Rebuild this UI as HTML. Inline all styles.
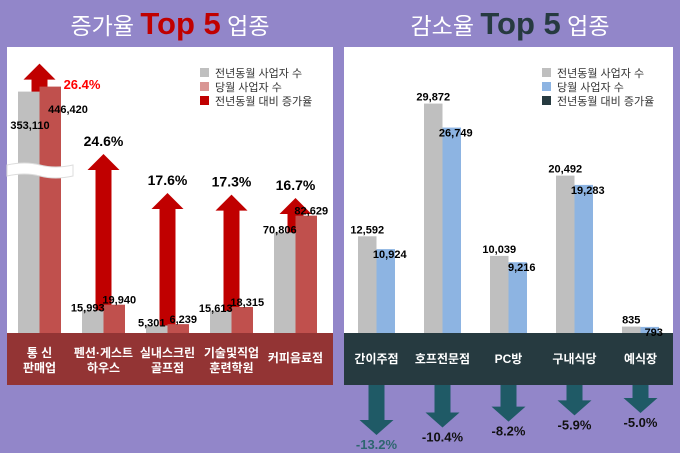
<!DOCTYPE html>
<html><head><meta charset="utf-8"><style>
body{margin:0;background:#9286c9;}
svg{display:block;font-family:"Liberation Sans","Noto Sans CJK KR",sans-serif;}
</style></head><body>
<svg id="c" width="680" height="453" viewBox="0 0 680 453" xmlns="http://www.w3.org/2000/svg">
<rect x="0" y="0" width="680" height="453" fill="#9286c9"/>
<text x="170" y="34" text-anchor="middle" fill="#fff" font-size="23">증가율 <tspan fill="#c00000" font-weight="bold" font-size="31">Top 5</tspan> 업종</text>
<text x="510" y="34" text-anchor="middle" fill="#fff" font-size="23">감소율 <tspan fill="#263a40" font-weight="bold" font-size="31">Top 5</tspan> 업종</text>
<rect x="7" y="47" width="326" height="286" fill="#fff"/>
<rect x="7" y="333" width="326" height="52" fill="#933434"/>
<rect x="344" y="47" width="329" height="286" fill="#fff"/>
<rect x="344" y="333" width="329" height="52" fill="#263a40"/>
<g id="L"></g><g id="R"></g>
<g font-size="11" fill="#333">
<rect x="200" y="68" width="9" height="9" fill="#bfbfbf"/><text x="215" y="77">전년동월 사업자 수</text>
<rect x="200" y="82" width="9" height="9" fill="#d99694"/><text x="215" y="91">당월 사업자 수</text>
<rect x="200" y="96" width="9" height="9" fill="#c00000"/><text x="215" y="105">전년동월 대비 증가율</text>
</g>
<g font-size="11" fill="#333">
<rect x="542" y="68" width="9" height="9" fill="#bfbfbf"/><text x="557" y="77">전년동월 사업자 수</text>
<rect x="542" y="82" width="9" height="9" fill="#8db4e2"/><text x="557" y="91">당월 사업자 수</text>
<rect x="542" y="96" width="9" height="9" fill="#263a40"/><text x="557" y="105">전년동월 대비 증가율</text>
</g>
</svg>
<script>
const incCats=[["통  신","판매업"],["펜션·게스트","하우스"],["실내스크린","골프점"],["기술및직업","훈련학원"],["커피음료점"]];
const incPrev=[353110,15993,5301,15613,70806];
const incCur=[446420,19940,6239,18315,82629];
const incRate=[26.4,24.6,17.6,17.3,16.7];
const decCats=["간이주점","호프전문점","PC방","구내식당","예식장"];
const decPrev=[12592,29872,10039,20492,835];
const decCur=[10924,26749,9216,19283,793];
const decRate=[-13.2,-10.4,-8.2,-5.9,-5.0];

const NS="http://www.w3.org/2000/svg";
function mk(tag,attrs,parent,txt){const e=document.createElementNS(NS,tag);for(const k in attrs)e.setAttribute(k,attrs[k]);if(txt!==undefined)e.textContent=txt;parent.appendChild(e);return e;}
const fmt=v=>v.toLocaleString('en-US');
const BASE=333;
function yL(v){const h=v<=100000?v*0.00142:241.4+(v-353110)*0.0000536;return BASE-h;}
function yR(v){return BASE-v*0.00768;}
function arrowTopL(r){return 291-5.57*r;}
function arrowTipR(r){return 385+14.6+2.68*Math.abs(r);}
const L=document.getElementById('L'),R=document.getElementById('R');
const bw=21.5;
incPrev.forEach((pv,i)=>{
  const gx=18+i*64, cx=gx+bw;
  const cv=incCur[i];
  let top=i===0?yL(cv)-23:arrowTopL(incRate[i]);
  const a=mk('polygon',{points:`${cx-8},${BASE} ${cx-8},${top+16} ${cx-16},${top+16} ${cx},${top} ${cx+16},${top+16} ${cx+8},${top+16} ${cx+8},${BASE}`,fill:'#c00000'},L);
  
  
  const g=mk('rect',{x:gx,y:yL(pv),width:bw,height:BASE-yL(pv),fill:'#bfbfbf'},L);
  
  
  const r=mk('rect',{x:gx+bw,y:yL(cv),width:bw,height:BASE-yL(cv),fill:'#c0504d'},L);
  
  
  let t1,t2,t3;
  if(i===0){
    t1=mk('text',{x:30,y:129,'text-anchor':'middle','font-size':'11','font-weight':'bold'},L,fmt(pv));
    t2=mk('text',{x:68,y:113,'text-anchor':'middle','font-size':'11','font-weight':'bold'},L,fmt(cv));
    t3=mk('text',{x:82,y:89,'text-anchor':'middle','font-size':'13','font-weight':'bold',fill:'#ff0000'},L,incRate[i].toFixed(1)+'%');
  }else{
    t1=mk('text',{x:gx+bw/2-5,y:yL(pv)+1,'text-anchor':'middle','font-size':'11','font-weight':'bold'},L,fmt(pv));
    t2=mk('text',{x:gx+bw*1.5+5,y:yL(cv)-1,'text-anchor':'middle','font-size':'11','font-weight':'bold'},L,fmt(cv));
    t3=mk('text',{x:cx,y:top-8,'text-anchor':'middle','font-size':'14','font-weight':'bold'},L,incRate[i].toFixed(1)+'%');
  }
  
  
  
  
  
  
  const lines=incCats[i];
  const ct=mk('text',{x:cx,y:lines.length>1?357:362,'text-anchor':'middle','font-size':'12','font-weight':'bold',fill:'#fff'},L);
  
  
  lines.forEach((s,j)=>mk('tspan',{x:cx,dy:j?15:0},ct,s));
});
// break marker
const br=mk('path',{d:'M7 165 Q25 161 40 165 T73 165 L73 176 Q55 180 40 176 T7 176 Z',fill:'#fff',stroke:'#ddd','stroke-width':'1'},L);



const bw2=18.5;
decPrev.forEach((pv,i)=>{
  const gx=358+i*66, cx=gx+bw2, cv=decCur[i];
  const g=mk('rect',{x:gx,y:yR(pv),width:bw2,height:BASE-yR(pv),fill:'#bfbfbf'},R);
  
  
  const b=mk('rect',{x:gx+bw2,y:yR(cv),width:bw2,height:BASE-yR(cv),fill:'#8db4e2'},R);
  
  
  const t1=mk('text',{x:gx+bw2/2,y:yR(pv)-3,'text-anchor':'middle','font-size':'11','font-weight':'bold'},R,fmt(pv));
  
  
  const t2=mk('text',{x:gx+bw2*1.5+4,y:yR(cv)+9,'text-anchor':'middle','font-size':'11','font-weight':'bold'},R,fmt(cv));
  
  
  const tip=arrowTipR(decRate[i]);
  const a=mk('polygon',{points:`${cx-8},385 ${cx+8},385 ${cx+8},${tip-15} ${cx+17},${tip-15} ${cx},${tip} ${cx-17},${tip-15} ${cx-8},${tip-15}`,fill:'#1f5a66'},R);
  
  
  const t3=mk('text',{x:cx,y:tip+14,'text-anchor':'middle','font-size':'13','font-weight':'bold',fill:i===0?'#2e6670':'#111'},R,decRate[i].toFixed(1)+'%');
  
  
  const ct=mk('text',{x:cx,y:363,'text-anchor':'middle','font-size':'12','font-weight':'bold',fill:'#fff'},R,decCats[i]);
  
  
});
</script>
</body></html>
